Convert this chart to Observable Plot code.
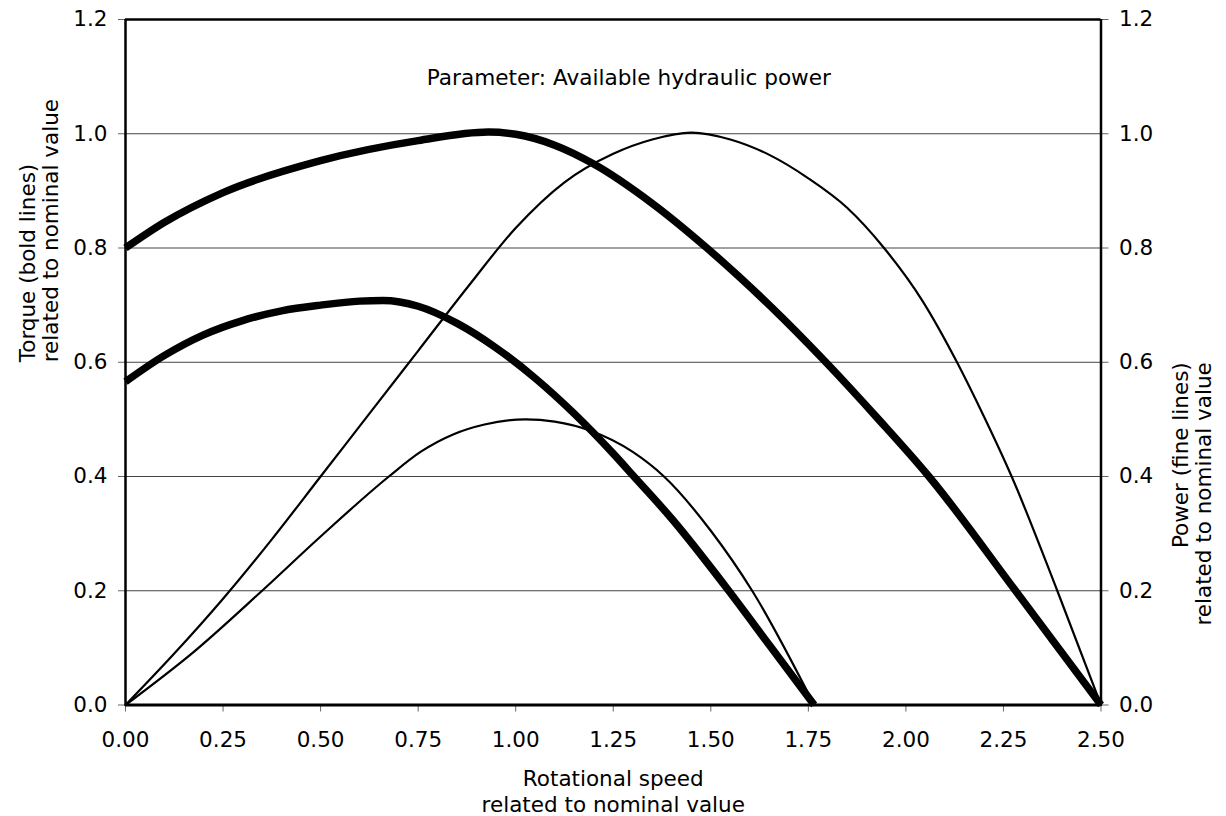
<!DOCTYPE html>
<html><head><meta charset="utf-8">
<script src="https://cdn.jsdelivr.net/npm/d3@7"></script>
<script src="https://cdn.jsdelivr.net/npm/@observablehq/plot@0.6"></script>
<style>body{margin:0;background:#fff} svg{display:block}</style>
</head><body><div id="chart"></div>
<script>
// Torque (bold lines), high available hydraulic power
const torqueHighSpeed = [0, 0.1, 0.25, 0.5, 0.75, 0.93, 1.0, 1.1, 1.2, 1.35, 1.49, 1.65, 1.795, 1.93, 2.059, 2.281, 2.5];
const torqueHigh      = [0.80, 0.845, 0.897, 0.953, 0.988, 1.003, 0.999, 0.98, 0.947, 0.878, 0.80, 0.70, 0.60, 0.50, 0.40, 0.20, 0.0];
// Torque (bold lines), low available hydraulic power
const torqueLowSpeed = [0, 0.1, 0.2, 0.3, 0.4, 0.5, 0.6, 0.66, 0.75, 0.85, 0.95, 1.05, 1.15, 1.25, 1.303, 1.4, 1.546, 1.65, 1.765];
const torqueLow      = [0.566, 0.612, 0.648, 0.673, 0.69, 0.70, 0.707, 0.708, 0.698, 0.668, 0.625, 0.572, 0.51, 0.44, 0.40, 0.326, 0.20, 0.105, 0.0];
// Power (fine lines), high
const powerHighSpeed = [0, 0.125, 0.25, 0.375, 0.5, 0.625, 0.75, 0.875, 1.0, 1.125, 1.25, 1.35, 1.45, 1.55, 1.65, 1.75, 1.85, 1.944, 2.042, 2.131, 2.2, 2.271, 2.388, 2.5];
const powerHigh      = [0, 0.09, 0.186, 0.29, 0.40, 0.51, 0.62, 0.73, 0.835, 0.915, 0.965, 0.99, 1.002, 0.99, 0.963, 0.922, 0.87, 0.80, 0.708, 0.60, 0.505, 0.40, 0.20, 0];
// Power (fine lines), low
const powerLowSpeed = [0, 0.175, 0.35, 0.5, 0.675, 0.756, 0.841, 0.92, 1.025, 1.1, 1.192, 1.3, 1.38, 1.5, 1.606, 1.765];
const powerLow      = [0, 0.093, 0.2, 0.295, 0.40, 0.443, 0.474, 0.491, 0.50, 0.496, 0.48, 0.443, 0.40, 0.305, 0.20, 0];

const xTicks = [0, 0.25, 0.5, 0.75, 1.0, 1.25, 1.5, 1.75, 2.0, 2.25, 2.5];
const yTicks = [0, 0.2, 0.4, 0.6, 0.8, 1.0, 1.2];
const gridTicks = [0.2, 0.4, 0.6, 0.8, 1.0];

const annotationText = "Parameter: Available hydraulic power";
const annotationPos = {x: 1.29, y: 1.097};
const leftLabel = "Torque (bold lines)\nrelated to nominal value";
const rightLabel = "Power (fine lines)\nrelated to nominal value";
const bottomLabel = "Rotational speed\nrelated to nominal value";

const toRows = (xs, ys, s) => xs.map((x, i) => ({x, y: ys[i], s}));
const bold = [...toRows(torqueHighSpeed, torqueHigh, "TH"), ...toRows(torqueLowSpeed, torqueLow, "TL")];
const fine = [...toRows(powerHighSpeed, powerHigh, "PH"), ...toRows(powerLowSpeed, powerLow, "PL")];

const FS = 21.5;
const chart = Plot.plot({
  width: 1226, height: 816,
  marginLeft: 125, marginRight: 125.5, marginTop: 19, marginBottom: 111.5,
  style: {fontFamily: "'DejaVu Sans', Verdana, sans-serif", fontSize: FS + "px", color: "#000", background: "#fff"},
  x: {domain: [0, 2.5], axis: null},
  y: {domain: [0, 1.2], axis: null},
  marks: [
    Plot.gridY(gridTicks, {stroke: "#444", strokeOpacity: 1, strokeWidth: 1}),
    Plot.axisY(yTicks, {anchor: "left", tickFormat: d3.format(".1f"), tickSize: 7, tickPadding: 11, stroke: "#666", fontSize: FS, label: null}),
    Plot.axisY(yTicks, {anchor: "right", tickFormat: d3.format(".1f"), tickSize: 7, tickPadding: 11, stroke: "#666", fontSize: FS, label: null}),
    Plot.axisX(xTicks, {anchor: "bottom", tickFormat: d3.format(".2f"), tickSize: 7, tickPadding: 20, stroke: "#666", fontSize: FS, label: null}),
    Plot.ruleY([1.2], {stroke: "#000", strokeWidth: 2.5}),
    Plot.ruleX([0, 2.5], {stroke: "#000", strokeWidth: 2.5}),
    Plot.line(fine, {x: "x", y: "y", z: "s", stroke: "#000", strokeWidth: 2.2, curve: "monotone-x"}),
    Plot.line(bold, {x: "x", y: "y", z: "s", stroke: "#000", strokeWidth: 7.5, curve: "monotone-x", strokeLinecap: "butt"}),
    Plot.ruleY([0], {stroke: "#000", strokeWidth: 3}),
    Plot.text([annotationText], {x: () => annotationPos.x, y: () => annotationPos.y, fontSize: 21.6, fill: "#000"}),
    Plot.text([leftLabel], {frameAnchor: "left", dx: -86, rotate: -90, fontSize: FS, lineHeight: 1.05, lineAnchor: "middle", fill: "#000"}),
    Plot.text([rightLabel], {frameAnchor: "right", dx: 91, rotate: -90, fontSize: FS, lineHeight: 1.1, lineAnchor: "middle", fill: "#000"}),
    Plot.text([bottomLabel], {frameAnchor: "bottom", dy: 85.5, fontSize: FS, lineHeight: 1.23, lineAnchor: "middle", fill: "#000"})
  ]
});
document.getElementById("chart").appendChild(chart);
</script>
</body></html>
